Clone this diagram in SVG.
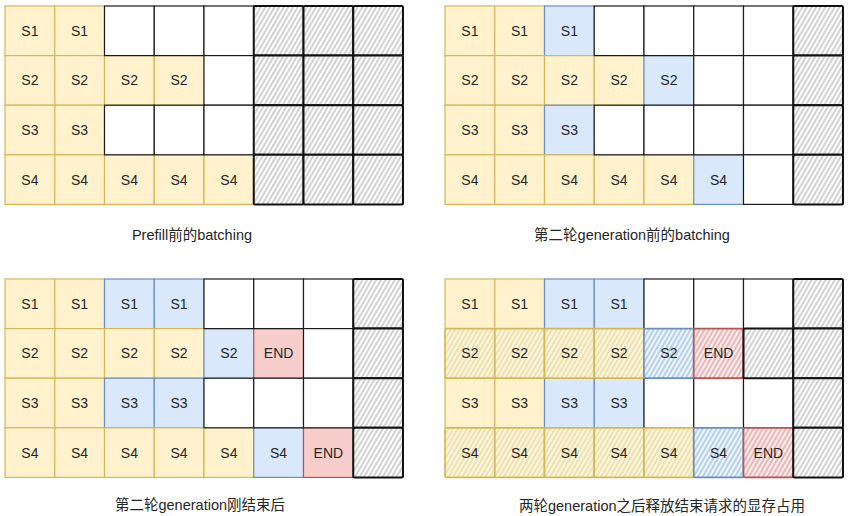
<svg xmlns="http://www.w3.org/2000/svg" width="861" height="516" viewBox="0 0 861 516">
<style>
rect{stroke-width:1.2}
.y{fill:#fff2cc;stroke:#d6b656}
.b{fill:#dae8fc;stroke:#6c8ebf}
.r{fill:#f8cecc;stroke:#b85450}
.w{fill:#ffffff;stroke:#1a1a1a}
.h{fill:url(#hg);stroke:#111;stroke-width:2;stroke-linejoin:round}
.yh{fill:url(#hy);stroke:#d6b656;stroke-width:1.7}
.bh{fill:url(#hb);stroke:#6c8ebf;stroke-width:1.7}
.rh{fill:url(#hr);stroke:#b85450;stroke-width:1.7}
text{font-family:"Liberation Sans",Arial,"Noto Sans CJK SC",sans-serif;fill:#262626;text-anchor:middle}
.c text{font-size:14px}
.cap{font-size:14.5px}
</style>
<defs>
<pattern id="hg" patternUnits="userSpaceOnUse" width="4" height="4" patternTransform="rotate(30)"><rect width="4" height="4" fill="#fff" stroke="none"/><line x1="2" y1="0" x2="2" y2="4" stroke="#9a9a9a" stroke-width="0.9"/></pattern>
<pattern id="hy" patternUnits="userSpaceOnUse" width="4" height="4" patternTransform="rotate(30)"><rect width="4" height="4" fill="#fff8e2" stroke="none"/><line x1="2" y1="0" x2="2" y2="4" stroke="#e0c36a" stroke-width="0.9"/></pattern>
<pattern id="hb" patternUnits="userSpaceOnUse" width="4" height="4" patternTransform="rotate(30)"><rect width="4" height="4" fill="#f1f7ff" stroke="none"/><line x1="2" y1="0" x2="2" y2="4" stroke="#6c9ee0" stroke-width="0.9"/></pattern>
<pattern id="hr" patternUnits="userSpaceOnUse" width="4" height="4" patternTransform="rotate(30)"><rect width="4" height="4" fill="#fdf0f0" stroke="none"/><line x1="2" y1="0" x2="2" y2="4" stroke="#e06a6a" stroke-width="0.9"/></pattern>
</defs>
<rect width="861" height="516" fill="#fff" stroke="none"/>
<g id="connectors"/>

<!-- Panel 1: Prefill -->
<g id="panel-prefill" class="c" transform="translate(5,6)">
<g id="p1-r1c1"><rect class="y" x="0" y="0" width="49.75" height="49.6"/><text x="24.9" y="29.8">S1</text></g>
<g id="p1-r1c2"><rect class="y" x="49.75" y="0" width="49.75" height="49.6"/><text x="74.6" y="29.8">S1</text></g>
<g id="p1-r2c1"><rect class="y" x="0" y="49.6" width="49.75" height="49.6"/><text x="24.9" y="79.4">S2</text></g>
<g id="p1-r2c2"><rect class="y" x="49.75" y="49.6" width="49.75" height="49.6"/><text x="74.6" y="79.4">S2</text></g>
<g id="p1-r2c3"><rect class="y" x="99.5" y="49.6" width="49.75" height="49.6"/><text x="124.4" y="79.4">S2</text></g>
<g id="p1-r2c4"><rect class="y" x="149.25" y="49.6" width="49.75" height="49.6"/><text x="174.1" y="79.4">S2</text></g>
<g id="p1-r3c1"><rect class="y" x="0" y="99.2" width="49.75" height="49.6"/><text x="24.9" y="129">S3</text></g>
<g id="p1-r3c2"><rect class="y" x="49.75" y="99.2" width="49.75" height="49.6"/><text x="74.6" y="129">S3</text></g>
<g id="p1-r4c1"><rect class="y" x="0" y="148.8" width="49.75" height="49.6"/><text x="24.9" y="178.6">S4</text></g>
<g id="p1-r4c2"><rect class="y" x="49.75" y="148.8" width="49.75" height="49.6"/><text x="74.6" y="178.6">S4</text></g>
<g id="p1-r4c3"><rect class="y" x="99.5" y="148.8" width="49.75" height="49.6"/><text x="124.4" y="178.6">S4</text></g>
<g id="p1-r4c4"><rect class="y" x="149.25" y="148.8" width="49.75" height="49.6"/><text x="174.1" y="178.6">S4</text></g>
<g id="p1-r4c5"><rect class="y" x="199" y="148.8" width="49.75" height="49.6"/><text x="223.9" y="178.6">S4</text></g>
<g id="p1-r1c3"><rect class="w" x="99.5" y="0" width="49.75" height="49.6"/></g>
<g id="p1-r1c4"><rect class="w" x="149.25" y="0" width="49.75" height="49.6"/></g>
<g id="p1-r1c5"><rect class="w" x="199" y="0" width="49.75" height="49.6"/></g>
<g id="p1-r2c5"><rect class="w" x="199" y="49.6" width="49.75" height="49.6"/></g>
<g id="p1-r3c3"><rect class="w" x="99.5" y="99.2" width="49.75" height="49.6"/></g>
<g id="p1-r3c4"><rect class="w" x="149.25" y="99.2" width="49.75" height="49.6"/></g>
<g id="p1-r3c5"><rect class="w" x="199" y="99.2" width="49.75" height="49.6"/></g>
<g id="p1-r1c6"><rect class="h" x="248.75" y="0" width="49.75" height="49.6" rx="1.5"/></g>
<g id="p1-r1c7"><rect class="h" x="298.5" y="0" width="49.75" height="49.6" rx="1.5"/></g>
<g id="p1-r1c8"><rect class="h" x="348.25" y="0" width="49.75" height="49.6" rx="1.5"/></g>
<g id="p1-r2c6"><rect class="h" x="248.75" y="49.6" width="49.75" height="49.6" rx="1.5"/></g>
<g id="p1-r2c7"><rect class="h" x="298.5" y="49.6" width="49.75" height="49.6" rx="1.5"/></g>
<g id="p1-r2c8"><rect class="h" x="348.25" y="49.6" width="49.75" height="49.6" rx="1.5"/></g>
<g id="p1-r3c6"><rect class="h" x="248.75" y="99.2" width="49.75" height="49.6" rx="1.5"/></g>
<g id="p1-r3c7"><rect class="h" x="298.5" y="99.2" width="49.75" height="49.6" rx="1.5"/></g>
<g id="p1-r3c8"><rect class="h" x="348.25" y="99.2" width="49.75" height="49.6" rx="1.5"/></g>
<g id="p1-r4c6"><rect class="h" x="248.75" y="148.8" width="49.75" height="49.6" rx="1.5"/></g>
<g id="p1-r4c7"><rect class="h" x="298.5" y="148.8" width="49.75" height="49.6" rx="1.5"/></g>
<g id="p1-r4c8"><rect class="h" x="348.25" y="148.8" width="49.75" height="49.6" rx="1.5"/></g>
</g>
<text id="cap1" class="cap" x="192" y="240">Prefill前的batching</text>

<!-- Panel 2: before 2nd generation -->
<g id="panel-gen2-before" class="c" transform="translate(445,6)">
<g id="p2-r1c1"><rect class="y" x="0" y="0" width="49.75" height="49.6"/><text x="24.9" y="29.8">S1</text></g>
<g id="p2-r1c2"><rect class="y" x="49.75" y="0" width="49.75" height="49.6"/><text x="74.6" y="29.8">S1</text></g>
<g id="p2-r1c3"><rect class="b" x="99.5" y="0" width="49.75" height="49.6"/><text x="124.4" y="29.8">S1</text></g>
<g id="p2-r2c1"><rect class="y" x="0" y="49.6" width="49.75" height="49.6"/><text x="24.9" y="79.4">S2</text></g>
<g id="p2-r2c2"><rect class="y" x="49.75" y="49.6" width="49.75" height="49.6"/><text x="74.6" y="79.4">S2</text></g>
<g id="p2-r2c3"><rect class="y" x="99.5" y="49.6" width="49.75" height="49.6"/><text x="124.4" y="79.4">S2</text></g>
<g id="p2-r2c4"><rect class="y" x="149.25" y="49.6" width="49.75" height="49.6"/><text x="174.1" y="79.4">S2</text></g>
<g id="p2-r2c5"><rect class="b" x="199" y="49.6" width="49.75" height="49.6"/><text x="223.9" y="79.4">S2</text></g>
<g id="p2-r3c1"><rect class="y" x="0" y="99.2" width="49.75" height="49.6"/><text x="24.9" y="129">S3</text></g>
<g id="p2-r3c2"><rect class="y" x="49.75" y="99.2" width="49.75" height="49.6"/><text x="74.6" y="129">S3</text></g>
<g id="p2-r3c3"><rect class="b" x="99.5" y="99.2" width="49.75" height="49.6"/><text x="124.4" y="129">S3</text></g>
<g id="p2-r4c1"><rect class="y" x="0" y="148.8" width="49.75" height="49.6"/><text x="24.9" y="178.6">S4</text></g>
<g id="p2-r4c2"><rect class="y" x="49.75" y="148.8" width="49.75" height="49.6"/><text x="74.6" y="178.6">S4</text></g>
<g id="p2-r4c3"><rect class="y" x="99.5" y="148.8" width="49.75" height="49.6"/><text x="124.4" y="178.6">S4</text></g>
<g id="p2-r4c4"><rect class="y" x="149.25" y="148.8" width="49.75" height="49.6"/><text x="174.1" y="178.6">S4</text></g>
<g id="p2-r4c5"><rect class="y" x="199" y="148.8" width="49.75" height="49.6"/><text x="223.9" y="178.6">S4</text></g>
<g id="p2-r4c6"><rect class="b" x="248.75" y="148.8" width="49.75" height="49.6"/><text x="273.6" y="178.6">S4</text></g>
<g id="p2-r1c4"><rect class="w" x="149.25" y="0" width="49.75" height="49.6"/></g>
<g id="p2-r1c5"><rect class="w" x="199" y="0" width="49.75" height="49.6"/></g>
<g id="p2-r1c6"><rect class="w" x="248.75" y="0" width="49.75" height="49.6"/></g>
<g id="p2-r1c7"><rect class="w" x="298.5" y="0" width="49.75" height="49.6"/></g>
<g id="p2-r2c6"><rect class="w" x="248.75" y="49.6" width="49.75" height="49.6"/></g>
<g id="p2-r2c7"><rect class="w" x="298.5" y="49.6" width="49.75" height="49.6"/></g>
<g id="p2-r3c4"><rect class="w" x="149.25" y="99.2" width="49.75" height="49.6"/></g>
<g id="p2-r3c5"><rect class="w" x="199" y="99.2" width="49.75" height="49.6"/></g>
<g id="p2-r3c6"><rect class="w" x="248.75" y="99.2" width="49.75" height="49.6"/></g>
<g id="p2-r3c7"><rect class="w" x="298.5" y="99.2" width="49.75" height="49.6"/></g>
<g id="p2-r4c7"><rect class="w" x="298.5" y="148.8" width="49.75" height="49.6"/></g>
<g id="p2-r1c8"><rect class="h" x="348.25" y="0" width="49.75" height="49.6" rx="1.5"/></g>
<g id="p2-r2c8"><rect class="h" x="348.25" y="49.6" width="49.75" height="49.6" rx="1.5"/></g>
<g id="p2-r3c8"><rect class="h" x="348.25" y="99.2" width="49.75" height="49.6" rx="1.5"/></g>
<g id="p2-r4c8"><rect class="h" x="348.25" y="148.8" width="49.75" height="49.6" rx="1.5"/></g>
</g>
<text id="cap2" class="cap" x="632" y="240">第二轮generation前的batching</text>

<!-- Panel 3: just after 2nd generation -->
<g id="panel-gen2-after" class="c" transform="translate(5,279)">
<g id="p3-r1c1"><rect class="y" x="0" y="0" width="49.75" height="49.6"/><text x="24.9" y="29.8">S1</text></g>
<g id="p3-r1c2"><rect class="y" x="49.75" y="0" width="49.75" height="49.6"/><text x="74.6" y="29.8">S1</text></g>
<g id="p3-r1c3"><rect class="b" x="99.5" y="0" width="49.75" height="49.6"/><text x="124.4" y="29.8">S1</text></g>
<g id="p3-r1c4"><rect class="b" x="149.25" y="0" width="49.75" height="49.6"/><text x="174.1" y="29.8">S1</text></g>
<g id="p3-r2c1"><rect class="y" x="0" y="49.6" width="49.75" height="49.6"/><text x="24.9" y="79.4">S2</text></g>
<g id="p3-r2c2"><rect class="y" x="49.75" y="49.6" width="49.75" height="49.6"/><text x="74.6" y="79.4">S2</text></g>
<g id="p3-r2c3"><rect class="y" x="99.5" y="49.6" width="49.75" height="49.6"/><text x="124.4" y="79.4">S2</text></g>
<g id="p3-r2c4"><rect class="y" x="149.25" y="49.6" width="49.75" height="49.6"/><text x="174.1" y="79.4">S2</text></g>
<g id="p3-r2c5"><rect class="b" x="199" y="49.6" width="49.75" height="49.6"/><text x="223.9" y="79.4">S2</text></g>
<g id="p3-r2c6"><rect class="r" x="248.75" y="49.6" width="49.75" height="49.6"/><text x="273.6" y="79.4">END</text></g>
<g id="p3-r3c1"><rect class="y" x="0" y="99.2" width="49.75" height="49.6"/><text x="24.9" y="129">S3</text></g>
<g id="p3-r3c2"><rect class="y" x="49.75" y="99.2" width="49.75" height="49.6"/><text x="74.6" y="129">S3</text></g>
<g id="p3-r3c3"><rect class="b" x="99.5" y="99.2" width="49.75" height="49.6"/><text x="124.4" y="129">S3</text></g>
<g id="p3-r3c4"><rect class="b" x="149.25" y="99.2" width="49.75" height="49.6"/><text x="174.1" y="129">S3</text></g>
<g id="p3-r4c1"><rect class="y" x="0" y="148.8" width="49.75" height="49.6"/><text x="24.9" y="178.6">S4</text></g>
<g id="p3-r4c2"><rect class="y" x="49.75" y="148.8" width="49.75" height="49.6"/><text x="74.6" y="178.6">S4</text></g>
<g id="p3-r4c3"><rect class="y" x="99.5" y="148.8" width="49.75" height="49.6"/><text x="124.4" y="178.6">S4</text></g>
<g id="p3-r4c4"><rect class="y" x="149.25" y="148.8" width="49.75" height="49.6"/><text x="174.1" y="178.6">S4</text></g>
<g id="p3-r4c5"><rect class="y" x="199" y="148.8" width="49.75" height="49.6"/><text x="223.9" y="178.6">S4</text></g>
<g id="p3-r4c6"><rect class="b" x="248.75" y="148.8" width="49.75" height="49.6"/><text x="273.6" y="178.6">S4</text></g>
<g id="p3-r4c7"><rect class="r" x="298.5" y="148.8" width="49.75" height="49.6"/><text x="323.4" y="178.6">END</text></g>
<g id="p3-r1c5"><rect class="w" x="199" y="0" width="49.75" height="49.6"/></g>
<g id="p3-r1c6"><rect class="w" x="248.75" y="0" width="49.75" height="49.6"/></g>
<g id="p3-r1c7"><rect class="w" x="298.5" y="0" width="49.75" height="49.6"/></g>
<g id="p3-r2c7"><rect class="w" x="298.5" y="49.6" width="49.75" height="49.6"/></g>
<g id="p3-r3c5"><rect class="w" x="199" y="99.2" width="49.75" height="49.6"/></g>
<g id="p3-r3c6"><rect class="w" x="248.75" y="99.2" width="49.75" height="49.6"/></g>
<g id="p3-r3c7"><rect class="w" x="298.5" y="99.2" width="49.75" height="49.6"/></g>
<g id="p3-r1c8"><rect class="h" x="348.25" y="0" width="49.75" height="49.6" rx="1.5"/></g>
<g id="p3-r2c8"><rect class="h" x="348.25" y="49.6" width="49.75" height="49.6" rx="1.5"/></g>
<g id="p3-r3c8"><rect class="h" x="348.25" y="99.2" width="49.75" height="49.6" rx="1.5"/></g>
<g id="p3-r4c8"><rect class="h" x="348.25" y="148.8" width="49.75" height="49.6" rx="1.5"/></g>
</g>
<text id="cap3" class="cap" x="200" y="510">第二轮generation刚结束后</text>

<!-- Panel 4: after two generations, freed -->
<g id="panel-freed" class="c" transform="translate(445,279)">
<g id="p4-r1c1"><rect class="y" x="0" y="0" width="49.75" height="49.6"/><text x="24.9" y="29.8">S1</text></g>
<g id="p4-r1c2"><rect class="y" x="49.75" y="0" width="49.75" height="49.6"/><text x="74.6" y="29.8">S1</text></g>
<g id="p4-r1c3"><rect class="b" x="99.5" y="0" width="49.75" height="49.6"/><text x="124.4" y="29.8">S1</text></g>
<g id="p4-r1c4"><rect class="b" x="149.25" y="0" width="49.75" height="49.6"/><text x="174.1" y="29.8">S1</text></g>
<g id="p4-r3c1"><rect class="y" x="0" y="99.2" width="49.75" height="49.6"/><text x="24.9" y="129">S3</text></g>
<g id="p4-r3c2"><rect class="y" x="49.75" y="99.2" width="49.75" height="49.6"/><text x="74.6" y="129">S3</text></g>
<g id="p4-r3c3"><rect class="b" x="99.5" y="99.2" width="49.75" height="49.6"/><text x="124.4" y="129">S3</text></g>
<g id="p4-r3c4"><rect class="b" x="149.25" y="99.2" width="49.75" height="49.6"/><text x="174.1" y="129">S3</text></g>
<g id="p4-r1c5"><rect class="w" x="199" y="0" width="49.75" height="49.6"/></g>
<g id="p4-r1c6"><rect class="w" x="248.75" y="0" width="49.75" height="49.6"/></g>
<g id="p4-r1c7"><rect class="w" x="298.5" y="0" width="49.75" height="49.6"/></g>
<g id="p4-r3c5"><rect class="w" x="199" y="99.2" width="49.75" height="49.6"/></g>
<g id="p4-r3c6"><rect class="w" x="248.75" y="99.2" width="49.75" height="49.6"/></g>
<g id="p4-r3c7"><rect class="w" x="298.5" y="99.2" width="49.75" height="49.6"/></g>
<g id="p4-r2c1"><rect class="yh" x="0" y="49.6" width="49.75" height="49.6" rx="1.5"/><text x="24.9" y="79.4">S2</text></g>
<g id="p4-r2c2"><rect class="yh" x="49.75" y="49.6" width="49.75" height="49.6" rx="1.5"/><text x="74.6" y="79.4">S2</text></g>
<g id="p4-r2c3"><rect class="yh" x="99.5" y="49.6" width="49.75" height="49.6" rx="1.5"/><text x="124.4" y="79.4">S2</text></g>
<g id="p4-r2c4"><rect class="yh" x="149.25" y="49.6" width="49.75" height="49.6" rx="1.5"/><text x="174.1" y="79.4">S2</text></g>
<g id="p4-r2c5"><rect class="bh" x="199" y="49.6" width="49.75" height="49.6" rx="1.5"/><text x="223.9" y="79.4">S2</text></g>
<g id="p4-r2c6"><rect class="rh" x="248.75" y="49.6" width="49.75" height="49.6" rx="1.5"/><text x="273.6" y="79.4">END</text></g>
<g id="p4-r4c1"><rect class="yh" x="0" y="148.8" width="49.75" height="49.6" rx="1.5"/><text x="24.9" y="178.6">S4</text></g>
<g id="p4-r4c2"><rect class="yh" x="49.75" y="148.8" width="49.75" height="49.6" rx="1.5"/><text x="74.6" y="178.6">S4</text></g>
<g id="p4-r4c3"><rect class="yh" x="99.5" y="148.8" width="49.75" height="49.6" rx="1.5"/><text x="124.4" y="178.6">S4</text></g>
<g id="p4-r4c4"><rect class="yh" x="149.25" y="148.8" width="49.75" height="49.6" rx="1.5"/><text x="174.1" y="178.6">S4</text></g>
<g id="p4-r4c5"><rect class="yh" x="199" y="148.8" width="49.75" height="49.6" rx="1.5"/><text x="223.9" y="178.6">S4</text></g>
<g id="p4-r4c6"><rect class="bh" x="248.75" y="148.8" width="49.75" height="49.6" rx="1.5"/><text x="273.6" y="178.6">S4</text></g>
<g id="p4-r4c7"><rect class="rh" x="298.5" y="148.8" width="49.75" height="49.6" rx="1.5"/><text x="323.4" y="178.6">END</text></g>
<g id="p4-r2c7"><rect class="h" x="298.5" y="49.6" width="49.75" height="49.6" rx="1.5"/></g>
<g id="p4-r1c8"><rect class="h" x="348.25" y="0" width="49.75" height="49.6" rx="1.5"/></g>
<g id="p4-r2c8"><rect class="h" x="348.25" y="49.6" width="49.75" height="49.6" rx="1.5"/></g>
<g id="p4-r3c8"><rect class="h" x="348.25" y="99.2" width="49.75" height="49.6" rx="1.5"/></g>
<g id="p4-r4c8"><rect class="h" x="348.25" y="148.8" width="49.75" height="49.6" rx="1.5"/></g>
</g>
<text id="cap4" class="cap" x="662" y="511">两轮generation之后释放结束请求的显存占用</text>
</svg>
